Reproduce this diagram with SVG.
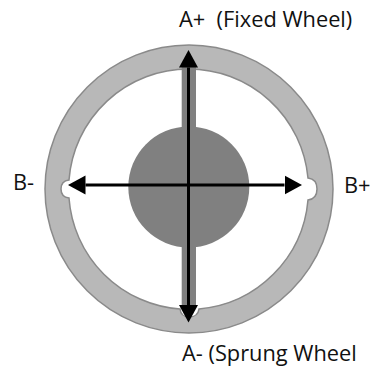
<svg xmlns="http://www.w3.org/2000/svg" width="372" height="368" viewBox="0 0 372 368">
<style>
text{font-family:"Open Sans","Noto Sans",sans-serif;font-size:21.800px;fill:#111;white-space:pre}
.rim{fill:#b8b8b8;stroke:#8a8a8a;stroke-width:1.500;fill-rule:evenodd}
.ax{stroke:#000;stroke-width:3;fill:none}
</style>
<defs>
<marker id="ah" markerWidth="18" markerHeight="20" refX="0" refY="10" orient="auto" markerUnits="userSpaceOnUse"><path d="M0 0.500L17.500 10L0 19.500Z" fill="#000"/></marker>
</defs>
<rect width="372" height="368" fill="#fff"/>
<g id="rim">
<path class="rim" d="M189 45A144 144 0 1 1 189 333A144 144 0 1 1 189 45Z M188.500 69A120 120 0 0 0 69 180Q61 181 61 189Q61 197 69 198A120 120 0 0 0 180 309Q181 317 189 317Q198 317 199 309A120 120 0 0 0 308 200Q317 199 317 189Q317 179 308 178A120 120 0 0 0 188.500 69Z"/>
</g>
<g id="hub"><circle cx="188.800" cy="187" r="60.500" fill="#808080"/></g>
<g id="spoke"><rect x="181.700" y="67" width="14.300" height="240" fill="#808080"/></g>
<g id="connectors">
<line class="ax" x1="188.500" y1="186" x2="188.500" y2="67.500" marker-end="url(#ah)"/>
<line class="ax" x1="188.500" y1="186" x2="188.500" y2="305" marker-end="url(#ah)"/>
<line class="ax" x1="188.500" y1="185" x2="85.500" y2="185" marker-end="url(#ah)"/>
<line class="ax" x1="188.500" y1="185" x2="284.500" y2="185" marker-end="url(#ah)"/>
</g>
<g id="label-a-plus"><text x="179" y="27">A+  (Fixed Wheel)</text></g>
<g id="label-a-minus"><text x="182" y="361">A- (Sprung Wheel</text></g>
<g id="label-b-minus"><text x="13" y="190">B-</text></g>
<g id="label-b-plus"><text x="344" y="193">B+</text></g>
</svg>
